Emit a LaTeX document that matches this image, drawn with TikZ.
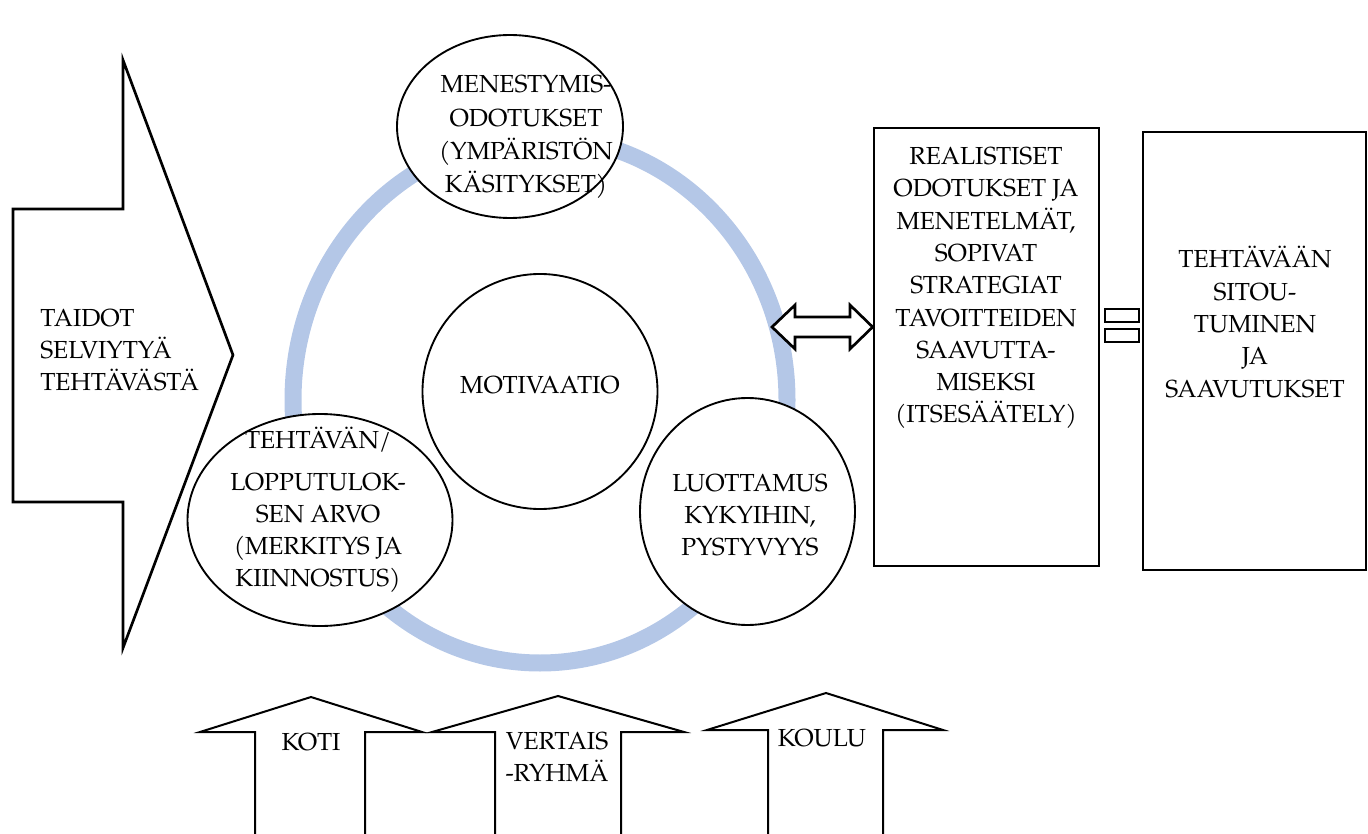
\documentclass[tikz,border=0pt]{standalone}
\usepackage{fontspec}
\setmainfont{TeX Gyre Pagella}
\usetikzlibrary{shapes.geometric}
\definecolor{ringblue}{RGB}{180,199,231}
\begin{document}
\begin{tikzpicture}[x=0.75pt,y=-0.75pt,
  lbl/.style={font=\fontsize{18.5}{24.2}\selectfont, align=center, inner sep=0pt},
  circ/.style={draw, ellipse, fill=white, line width=1.4pt, inner sep=0pt},
  boxx/.style={draw, line width=2pt, fill=white, inner sep=0pt},
  outline/.style={draw, line width=1.5pt, line join=miter, fill=white}]
\useasboundingbox (0,0) rectangle (1368,834);

% big left arrow
\draw[outline, line width=2pt] (123,60) -- (233,355) -- (123,648) -- (123,502) -- (13,502) -- (13,209) -- (123,209) -- cycle;
\node[lbl, align=left, anchor=west] (taidot) at (40,350) {TAIDOT\\SELVIYTYÄ\\TEHTÄVÄSTÄ};

% blue ring
\draw[ringblue, line width=12.75pt] (540,400) ellipse [x radius=247, y radius=263];

% circles
\node[circ, minimum width=198.75pt, minimum height=159pt] (value) at (320,520) {};
\node[circ, minimum width=176.25pt, minimum height=176.25pt] (motiv) at (540,391.5) {};
\node[circ, minimum width=161.25pt, minimum height=170.25pt] (trust) at (747.5,511.5) {};
\node[circ, minimum width=169.5pt, minimum height=137.25pt] (expect) at (510,126.5) {};

\node[lbl, font=\fontsize{18.5}{25}\selectfont] (expectT) at (526,137) {MENESTYMIS-\\ODOTUKSET\\(YMPÄRISTÖN\\KÄSITYKSET)};
\node[lbl] (motivT) at (540,385) {MOTIVAATIO};
\node[lbl] (valueT) at (318,510) {TEHTÄVÄN/\\[7pt]LOPPUTULOK-\\SEN ARVO\\(MERKITYS JA\\KIINNOSTUS)};
\node[lbl] (trustT) at (750,515) {LUOTTAMUS\\KYKYIHIN,\\PYSTYVYYS};

% boxes
\node[boxx, minimum width=168.75pt, minimum height=328.5pt] (box1) at (986.5,347) {};
\node[boxx, minimum width=167.25pt, minimum height=328.5pt] (box2) at (1254.5,351) {};
\node[lbl] (box1T) at (986,288) {REALISTISET\\ODOTUKSET JA\\MENETELMÄT,\\SOPIVAT\\STRATEGIAT\\TAVOITTEIDEN\\SAAVUTTA-\\MISEKSI\\(ITSESÄÄTELY)};
\node[lbl] (box2T) at (1255,322) {TEHTÄVÄÄN\\SITOU-\\TUMINEN\\JA\\SAAVUTUKSET};

% double arrow between ring and box1
\draw[outline, line width=2pt] (772,327) -- (795,305) -- (795,317) -- (850,317) -- (850,305) -- (box1.west |- 0,327) -- (850,349) -- (850,337) -- (795,337) -- (795,349) -- cycle;

% equals sign between boxes
\draw[line width=1.5pt] (1105,309) rectangle (1139,322);
\draw[line width=1.5pt] (1105,329) rectangle (1139,342);

% bottom up arrows
\draw[outline] (255,834) -- (255,732) -- (200,732) -- (311,697) -- (422,732) -- (365,732) -- (365,834);
\node[lbl] (koti) at (311,742) {KOTI};
\draw[outline] (495,834) -- (495,732) -- (432,732) -- (558,696) -- (684,732) -- (621,732) -- (621,834);
\node[lbl] (vertais) at (557,757) {VERTAIS\\-RYHMÄ};
\draw[outline] (768,834) -- (768,730) -- (707,730) -- (826,693) -- (943,730) -- (883,730) -- (883,834);
\node[lbl] (koulu) at (822,738) {KOULU};
\end{tikzpicture}
\end{document}
